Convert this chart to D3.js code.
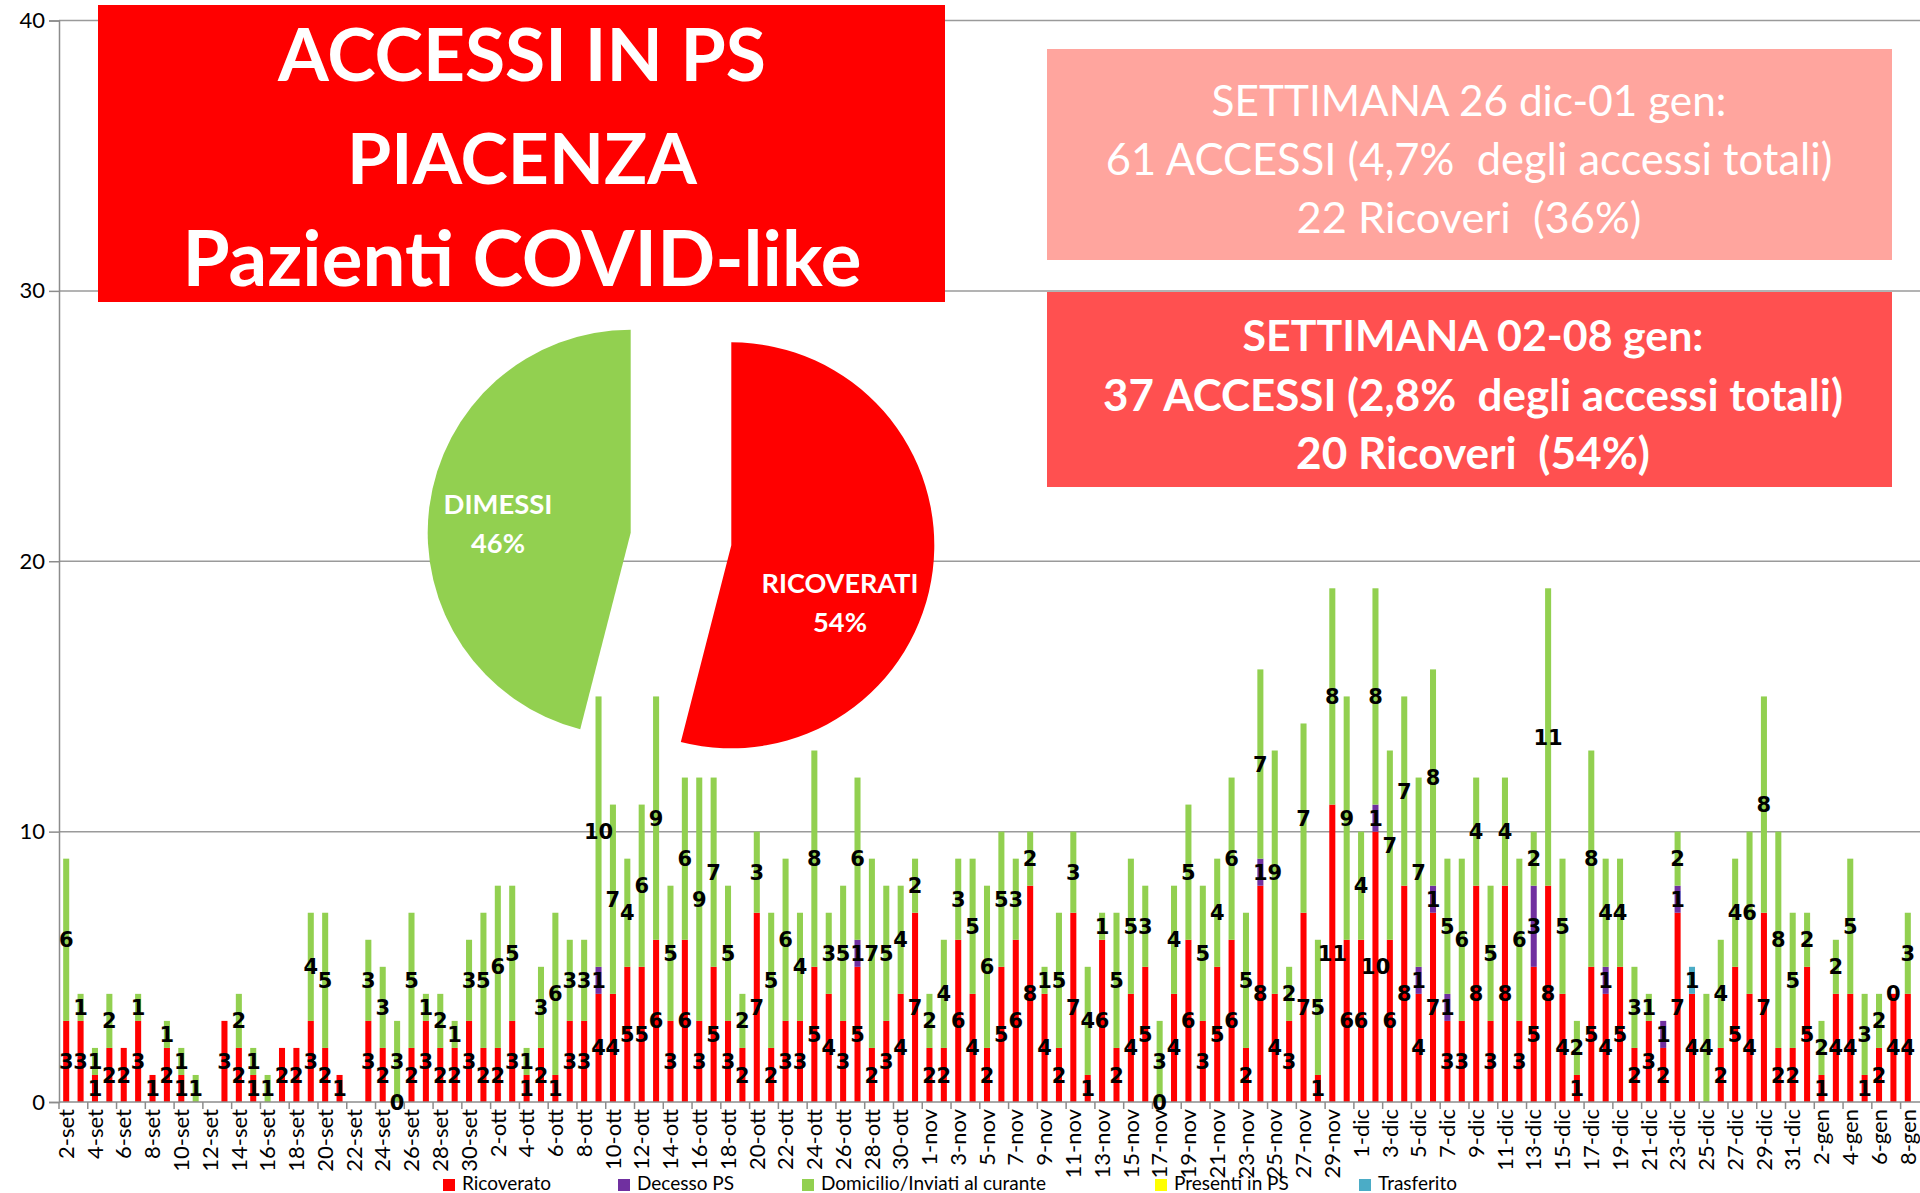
<!DOCTYPE html>
<html>
  <head>
    <meta charset="utf-8">
    <title>Accessi in PS Piacenza</title>
    <style type="text/css">
        html, body{
            padding: 0px;
            margin: 0px;
            background: #ffffff;
        }
        svg text{
            font-family: "Lato", "Open Sans", sans-serif;
        }
        .lbl{
            font-family: "DejaVu Sans", Verdana, sans-serif !important;
            font-weight: bold;
            font-size: 21px;
            fill: #000;
        }
    </style>
  </head>
  <body>
    <div id="vis"></div>
    <script src="https://cdnjs.cloudflare.com/ajax/libs/d3/7.8.5/d3.min.js"></script>
    <script type="text/javascript">

        // months shown on the axis: [name, first day, last day]
        var months = [["set", 2, 30], ["ott", 1, 31], ["nov", 1, 30], ["dic", 1, 31], ["gen", 1, 8]];

        var days = [];
        months.forEach(function(m){
            for (var d = m[1]; d <= m[2]; d++) days.push(d + "-" + m[0]);
        });

        var yTicks = [0, 10, 20, 30, 40];

        // daily values, null = no value in the table
        var ricoverato = [
            3,3,1,2,2,3,1,2,1,null,null,3,2,1,null,2,2,3,2,1,null,3,2,0,2,3,2,2,3,        // set
            2,2,3,1,2,1,3,3,4,4,5,5,6,3,6,3,5,3,2,7,2,3,3,5,4,3,5,2,3,4,7,                 // ott
            2,2,6,4,2,5,6,8,4,2,7,1,6,2,4,5,0,4,6,3,5,6,2,8,4,3,7,1,11,6,                  // nov
            6,10,6,8,4,7,3,3,8,3,8,3,5,8,4,1,5,4,5,2,3,2,7,4,null,2,5,4,7,2,2,             // dic
            5,1,4,4,1,2,4,4                                                                 // gen
        ];
        var decesso = [
            null,null,null,null,null,null,null,null,null,null,null,null,null,null,null,null,null,null,null,null,null,null,null,null,null,null,null,null,null,
            null,null,null,null,null,null,null,null,1,null,null,null,null,null,null,null,null,null,null,null,null,null,null,null,null,null,1,null,null,null,null,
            null,null,null,null,null,null,null,null,null,null,null,null,null,null,null,null,null,null,null,null,null,null,null,1,null,null,null,null,null,null,
            null,1,null,null,1,1,1,null,null,null,null,null,3,null,null,null,null,1,null,null,null,1,1,null,null,null,null,null,null,null,null,
            null,null,null,null,null,null,null,null
        ];
        var domicilio = [
            6,1,1,2,null,1,null,1,1,1,null,null,2,1,1,null,null,4,5,null,null,3,3,3,5,1,2,1,3,
            5,6,5,1,3,6,3,3,10,7,4,6,9,5,6,9,7,5,2,3,5,6,4,8,3,5,6,7,5,4,2,
            2,4,3,5,6,5,3,2,1,5,3,4,1,5,5,3,3,4,5,5,4,6,5,7,9,2,7,5,8,9,
            4,8,7,7,7,8,5,6,4,5,4,6,2,11,5,2,8,4,4,3,1,null,2,null,4,4,4,6,8,8,5,
            2,2,2,5,3,2,0,3
        ];
        var presenti = days.map(function(){ return null; });
        var trasferito = days.map(function(d){ return d === "24-dic" ? 1 : null; });

        var seriesNames = ["Ricoverato", "Decesso PS", "Domicilio/Inviati al curante", "Presenti in PS", "Trasferito"];
        var seriesColors = ["#FF0000", "#7030A0", "#92D050", "#FFFF00", "#4BACC6"];
        var seriesValues = [ricoverato, decesso, domicilio, presenti, trasferito];

        // pie of the last week
        var pieNames = ["RICOVERATI", "DIMESSI"];
        var piePerc = [54, 46];
        var pieColors = ["#FF0000", "#92D050"];

        var titleLines = ["ACCESSI IN PS", "PIACENZA", "Pazienti COVID-like"];
        var week1Lines = ["SETTIMANA 26 dic-01 gen:", "61 ACCESSI (4,7%  degli accessi totali)", "22 Ricoveri  (36%)"];
        var week2Lines = ["SETTIMANA 02-08 gen:", "37 ACCESSI (2,8%  degli accessi totali)", "20 Ricoveri  (54%)"];

        var width = 1920, height = 1193;

        var svg = d3.select("#vis").append("svg")
            .attr("width", width)
            .attr("height", height);

        var x = d3.scaleBand()
            .domain(days)
            .range([59, 1915])
            .paddingInner(0.58)
            .paddingOuter(0.29);

        var y = d3.scaleLinear()
            .domain([0, 40])
            .range([1102, 20.5]);

        // gridlines + y axis
        svg.append("g").selectAll("line")
            .data(yTicks.filter(function(t){ return t > 0; }))
            .enter().append("line")
            .attr("x1", 59).attr("x2", width)
            .attr("y1", function(d){ return y(d); })
            .attr("y2", function(d){ return y(d); })
            .attr("stroke", "#9a9a9a")
            .attr("stroke-width", 1.5);

        var yAxis = svg.append("g")
            .attr("transform", "translate(59,0)")
            .call(d3.axisLeft(y).tickValues(yTicks).tickSize(10).tickPadding(4));
        yAxis.select(".domain").attr("stroke", "#8c8c8c").attr("stroke-width", 1.5);
        yAxis.selectAll(".tick line").attr("stroke", "#8c8c8c").attr("stroke-width", 1.5);
        yAxis.selectAll("text")
            .style("font-family", "Lato")
            .style("font-size", "22px")
            .attr("fill", "#000");

        // stacked bars
        var table = days.map(function(d, i){
            var row = {day: d};
            seriesNames.forEach(function(s, k){ row[s] = seriesValues[k][i]; });
            return row;
        });

        var stack = d3.stack()
            .keys(seriesNames)
            .value(function(d, key){ return d[key] || 0; });
        var stacked = stack(table);

        var barG = svg.append("g");
        stacked.forEach(function(layer, k){
            barG.append("g").attr("fill", seriesColors[k])
                .selectAll("rect")
                .data(layer.filter(function(p){ return p[1] > p[0]; }))
                .enter().append("rect")
                .attr("x", function(p){ return x(p.data.day); })
                .attr("width", x.bandwidth())
                .attr("y", function(p){ return y(p[1]); })
                .attr("height", function(p){ return y(p[0]) - y(p[1]); });
        });

        // x axis
        var xAxis = svg.append("g")
            .attr("transform", "translate(0,1102)");
        xAxis.append("line")
            .attr("x1", 59).attr("x2", width)
            .attr("stroke", "#8c8c8c").attr("stroke-width", 1.5);
        xAxis.selectAll("line.tk")
            .data(days.filter(function(d, i){ return i % 2 === 0; }))
            .enter().append("line").attr("class", "tk")
            .attr("x1", function(d){ return x(d) - x.step() * 0.29; })
            .attr("x2", function(d){ return x(d) - x.step() * 0.29; })
            .attr("y1", 0).attr("y2", 7)
            .attr("stroke", "#8c8c8c").attr("stroke-width", 1.5);
        xAxis.selectAll("text")
            .data(days.filter(function(d, i){ return i % 2 === 0; }))
            .enter().append("text")
            .attr("transform", function(d){
                return "translate(" + (x(d) + x.bandwidth() / 2) + ",7) rotate(-90)";
            })
            .attr("text-anchor", "end")
            .attr("dy", "0.35em")
            .style("font-size", "22px")
            .attr("fill", "#000")
            .text(function(d){ return d; });

        // data labels
        var lblG = svg.append("g");
        stacked.forEach(function(layer, k){
            layer.forEach(function(p, i){
                var v = seriesValues[k][i];
                if (v === null || v === undefined) return;
                lblG.append("text").attr("class", "lbl")
                    .attr("x", x(p.data.day) + x.bandwidth() / 2)
                    .attr("y", y((p[0] + p[1]) / 2))
                    .attr("dy", "0.36em")
                    .attr("text-anchor", "middle")
                    .text(v);
            });
        });

        // legend along the bottom edge
        var legX = [443, 618, 802, 1155, 1359];
        var leg = svg.append("g");
        seriesNames.forEach(function(s, k){
            leg.append("rect")
                .attr("x", legX[k]).attr("y", 1179)
                .attr("width", 12).attr("height", 12)
                .attr("fill", seriesColors[k]);
            leg.append("text")
                .attr("x", legX[k] + 19).attr("y", 1190)
                .style("font-size", "19px")
                .attr("fill", "#000")
                .text(s);
        });

        function fitText(sel, target){
            var fs = parseFloat(sel.style("font-size"));
            var w = sel.node().getComputedTextLength();
            sel.style("font-size", (fs * target / w) + "px");
        }

        // title box
        svg.append("rect")
            .attr("x", 98).attr("y", 5)
            .attr("width", 847).attr("height", 297)
            .attr("fill", "#FF0000");
        var titleW = [488, 350, 679], titleB = [81, 184, 286];
        titleLines.forEach(function(t, i){
            var tx = svg.append("text")
                .attr("x", 522).attr("y", titleB[i])
                .attr("text-anchor", "middle")
                .style("font-weight", "bold")
                .style("font-size", "74px")
                .attr("fill", "#fff")
                .text(t);
            fitText(tx, titleW[i]);
        });

        // week boxes
        svg.append("rect")
            .attr("x", 1047).attr("y", 49)
            .attr("width", 845).attr("height", 211)
            .attr("fill", "#FFA59E");
        var w1W = [515, 727, 345], w1B = [116, 175, 233];
        week1Lines.forEach(function(t, i){
            var tx = svg.append("text")
                .attr("x", 1469).attr("y", w1B[i])
                .attr("text-anchor", "middle")
                .style("white-space", "pre")
                .style("font-size", "38px")
                .attr("fill", "#fff")
                .text(t);
            fitText(tx, w1W[i]);
        });

        svg.append("rect")
            .attr("x", 1047).attr("y", 292)
            .attr("width", 845).attr("height", 195)
            .attr("fill", "#FF5050");
        var w2W = [461, 740, 354], w2B = [351, 411, 469];
        week2Lines.forEach(function(t, i){
            var tx = svg.append("text")
                .attr("x", 1473).attr("y", w2B[i])
                .attr("text-anchor", "middle")
                .style("white-space", "pre")
                .style("font-weight", "bold")
                .style("font-size", "38px")
                .attr("fill", "#fff")
                .text(t);
            fitText(tx, w2W[i]);
        });

        // exploded pie
        var pie = d3.pie().sort(null)(piePerc);
        var arc = d3.arc().innerRadius(0).outerRadius(203);
        var pieG = svg.append("g").attr("transform", "translate(681,539)");
        var explode = 50.7;
        pie.forEach(function(p, i){
            var mid = (p.startAngle + p.endAngle) / 2;
            var dx = Math.sin(mid) * explode, dy = -Math.cos(mid) * explode;
            pieG.append("path")
                .attr("transform", "translate(" + dx + "," + dy + ")")
                .attr("d", arc(p))
                .attr("fill", pieColors[i]);
        });
        var pieLblX = [840, 498], pieLblB = [[593, 632], [514, 553]], pieLblW = [[157, 54], [109, 54]];
        pieNames.forEach(function(n, i){
            [n, piePerc[i] + "%"].forEach(function(t, j){
                var tx = svg.append("text")
                    .attr("x", pieLblX[i]).attr("y", pieLblB[i][j])
                    .attr("text-anchor", "middle")
                    .style("font-weight", "bold")
                    .style("font-size", "24px")
                    .attr("fill", "#fff")
                    .text(t);
                fitText(tx, pieLblW[i][j]);
            });
        });

    </script>
  </body>
</html>
